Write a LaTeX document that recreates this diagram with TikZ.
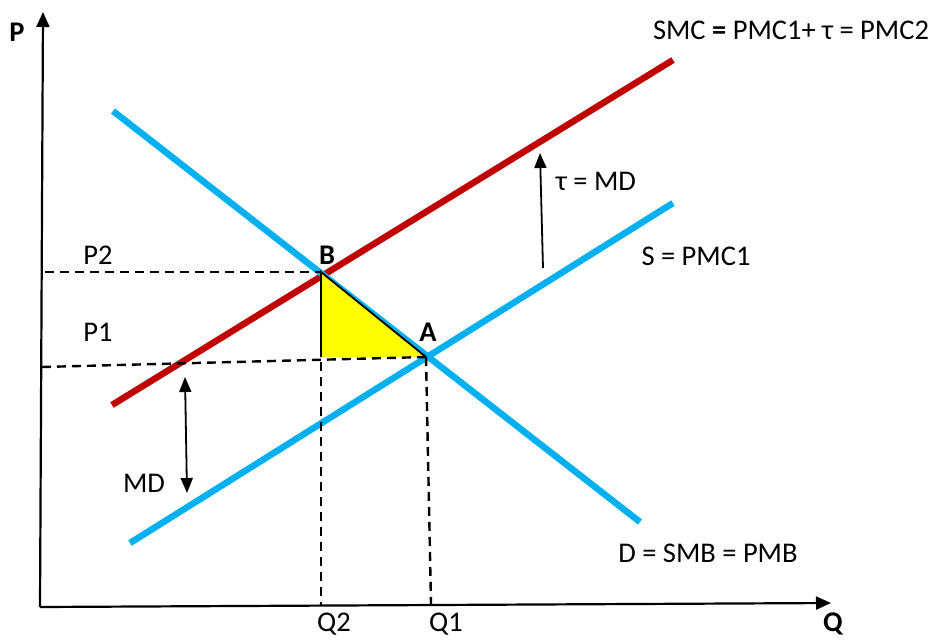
\documentclass[tikz,border=0pt]{standalone}
\usepackage{fontspec}
\setmainfont{Carlito}
\usetikzlibrary{arrows.meta}
\definecolor{smcred}{RGB}{192,0,0}
\definecolor{curveblue}{RGB}{0,176,240}
\definecolor{triyellow}{RGB}{255,255,0}
\tikzset{
  lbl/.style={font=\fontsize{28.5}{32}\selectfont, inner sep=0pt},
  blbl/.style={font=\fontsize{28.5}{32}\selectfont\bfseries, inner sep=0pt},
  axisline/.style={line width=2.2pt, -{Triangle[length=15pt,width=13pt]}},
  redline/.style={line width=6.5pt, color=smcred},
  blueline/.style={line width=6.5pt, color=curveblue},
  dashline/.style={line width=2.4pt, dash pattern=on 9pt off 6pt},
  arr/.style={line width=1.8pt, -{Triangle[length=15pt,width=12pt]}},
  darr/.style={line width=1.8pt, {Triangle[length=15pt,width=12pt]}-{Triangle[length=15pt,width=12pt]}}
}
\begin{document}
\begin{tikzpicture}[x=1pt,y=-1pt]
\useasboundingbox (0,0) rectangle (935,641);
% coordinates
\coordinate (O) at (40,607);
\coordinate (Ytop) at (43,12);
\coordinate (Xend) at (831,603);
\coordinate (smcS) at (112,405);
\coordinate (smcE) at (673,60);
\coordinate (sS) at (130,543);
\coordinate (sE) at (673,203);
\coordinate (dS) at (113,111);
\coordinate (dE) at (640,522);
\coordinate (B) at (321,272);
\coordinate (C) at (321,357);
\coordinate (A) at (426,357);
% curves
\draw[redline] (smcS) -- (smcE);
\draw[blueline] (sS) -- (sE);
\draw[blueline] (dS) -- (dE);
% triangle
\fill[triyellow] (B) -- (C) -- (A) -- cycle;
\draw[line width=1.8pt] (A) -- (B) -- (C);
% dashed lines
\coordinate (P2l) at (45,272);
\coordinate (P1l) at (42,367);
\coordinate (Q2b) at (321,606);
\coordinate (Q1b) at (431,604);
\draw[dashline] (P2l) -- (B);
\draw[dashline] (P1l) -- (A);
\draw[dashline] (B) -- (Q2b);
\draw[dashline] (A) -- (Q1b);
% axes
\draw[axisline] (O) -- (Ytop);
\draw[axisline] (O) -- (Xend);
% arrows
\coordinate (mdT) at (185,377);
\coordinate (mdB) at (187,493);
\draw[darr] (mdB) -- (mdT);
\coordinate (tauT) at (540,153);
\coordinate (tauB) at (543,268);
\draw[arr] (tauB) -- (tauT);
% labels
\node[blbl] (pl) at (17,32) {P};
\node[blbl] (ql) at (833,624) {Q};
\node[lbl] (smcl) at (791,30) {SMC \textbf{=} PMC1+ τ = PMC2};
\node[lbl] (taul) at (596,181) {τ = MD};
\node[lbl] (sl) at (696,256) {S = PMC1};
\node[lbl] (dl) at (708,553) {D = SMB = PMB};
\node[lbl] (p2l) at (98,255) {P2};
\node[lbl] (p1l) at (98,332) {P1};
\node[blbl] (bl) at (327,255) {B};
\node[blbl] (al) at (428,332) {A};
\node[lbl] (q2l) at (334,624) {Q2};
\node[lbl] (q1l) at (446,624) {Q1};
\node[lbl] (mdl) at (144,483) {MD};
\end{tikzpicture}
\end{document}
